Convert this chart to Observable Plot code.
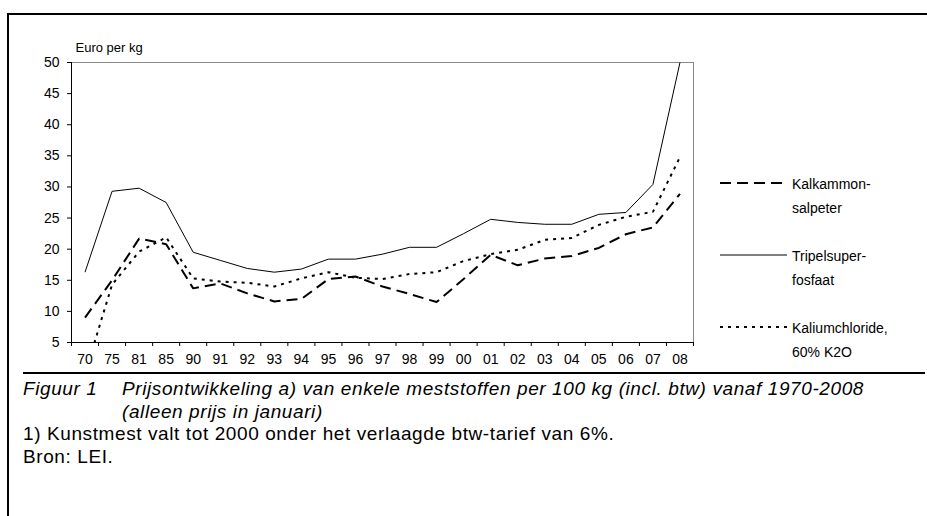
<!DOCTYPE html>
<html><head><meta charset="utf-8">
<script src="https://cdn.jsdelivr.net/npm/d3@7"></script>
<script src="https://cdn.jsdelivr.net/npm/@observablehq/plot@0.6"></script>
<style>
body{margin:0;background:#fff;font-family:"Liberation Sans",Arial,sans-serif;color:#000;}
#wrap{position:relative;width:927px;height:516px;overflow:hidden;background:#fff;}
#frame{position:absolute;left:7px;top:13px;right:-10px;bottom:-10px;border-top:2px solid #000;border-left:2px solid #000;}
#chart{position:absolute;left:0;top:0;}
#legend{position:absolute;left:720px;top:171px;font-size:14px;}
.item{position:relative;height:72px;}
.item svg{position:absolute;left:0;top:0;}
.item .lab{position:absolute;left:72px;top:1px;line-height:24px;}
#rule{position:absolute;left:23px;top:372px;width:902px;border-top:2px solid #000;}
#cap{position:absolute;left:23px;top:378px;font-family:"Liberation Sans",Arial,sans-serif;font-size:19px;letter-spacing:0.6px;line-height:22.5px;white-space:nowrap;}
#cap .fig{font-style:italic;padding-left:99px;text-indent:-99px;}
#cap .fig span{display:inline-block;width:99px;text-indent:0;}
</style></head><body>
<div id="wrap">
  <div id="frame"></div>
  <div id="chart"></div>
  <div id="legend"></div>
  <div id="rule"></div>
  <div id="cap">
    <div class="fig"><span>Figuur 1</span>Prijsontwikkeling a) van enkele meststoffen per 100 kg (incl. btw) vanaf 1970-2008<br>(alleen prijs in januari)</div>
    <div>1) Kunstmest valt tot 2000 onder het verlaagde btw-tarief van 6%.</div>
    <div>Bron: LEI.</div>
  </div>
</div>
<script>
const years = ["70","75","81","85","90","91","92","93","94","95","96","97","98","99","00","01","02","03","04","05","06","07","08"];
const kalkammonsalpeter = [9.0,15.0,21.7,20.8,13.7,14.5,12.9,11.6,12.0,15.2,15.6,14.0,12.8,11.5,15.2,19.1,17.4,18.5,18.9,20.2,22.4,23.5,28.9];
const tripelsuperfosfaat = [16.3,29.3,29.8,27.5,19.5,18.2,16.9,16.3,16.8,18.4,18.4,19.2,20.3,20.3,22.5,24.8,24.3,24.0,24.0,25.6,25.9,30.4,50.0];
const kaliumchloride = [0,14.3,19.6,21.9,15.3,14.8,14.6,14.0,15.3,16.3,15.4,15.2,16.0,16.3,18.1,19.2,19.9,21.5,21.8,23.9,25.2,26.0,34.8];
const yTicks = [5,10,15,20,25,30,35,40,45,50];
const yLabel = "Euro per kg";

const series = [
  {name: ["Kalkammon-","salpeter"], values: kalkammonsalpeter, width: 2, dash: "11,6"},
  {name: ["Tripelsuper-","fosfaat"], values: tripelsuperfosfaat, width: 1, dash: null},
  {name: ["Kaliumchloride,","60% K2O"], values: kaliumchloride, width: 2, dash: "3,5"}
];

const n = years.length;
const idx = d3.range(n);
const rows = s => idx.map(i => ({i, v: s[i]}));

const lineMarks = series.map(s => Plot.line(rows(s.values), {
  x: "i", y: "v", stroke: "#000", strokeWidth: s.width,
  strokeDasharray: s.dash, strokeLinecap: "butt", strokeLinejoin: "miter", clip: true
}));

const plot = Plot.plot({
  width: 927, height: 372,
  marginLeft: 71, marginRight: 234, marginTop: 62, marginBottom: 30,
  style: {fontFamily: "'Liberation Sans', Arial, sans-serif", fontSize: "14px", color: "#000", background: "transparent"},
  x: {type: "linear", domain: [-0.5, n - 0.5]},
  y: {domain: [5, 50]},
  marks: [
    Plot.frame({stroke: "#888"}),
    Plot.ruleX([-0.5], {stroke: "#000"}),
    Plot.ruleY([5], {stroke: "#000"}),
    Plot.axisY(yTicks, {tickSize: 4, tickPadding: 8, label: null, fontSize: 14}),
    Plot.axisX(d3.range(n + 1).map(i => i - 0.5), {tickSize: 4, tickFormat: () => "", label: null}),
    Plot.axisX(idx, {tickSize: 0, tickPadding: 12, tickFormat: i => years[i], label: null, fontSize: 14}),
    ...lineMarks,
    Plot.text([yLabel], {frameAnchor: "top-left", lineAnchor: "middle", dx: 4, dy: -15, textAnchor: "start", fontSize: 13})
  ]
});
document.getElementById("chart").appendChild(plot);

const leg = d3.select("#legend");
series.forEach(s => {
  const it = leg.append("div").attr("class", "item");
  const svg = it.append("svg").attr("width", 68).attr("height", 24);
  svg.append("line").attr("x1", 0).attr("x2", 67).attr("y1", 12).attr("y2", 12)
    .attr("stroke", "#000").attr("stroke-width", s.width)
    .attr("stroke-dasharray", s.dash).attr("stroke-linecap", "butt");
  it.append("div").attr("class", "lab").html(s.name.join("<br>"));
});
</script>
</body></html>
